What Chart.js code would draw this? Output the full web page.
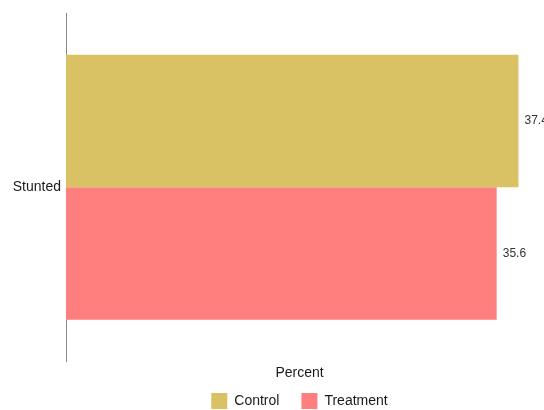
<!DOCTYPE html>
<html>
<head>
<meta charset="utf-8">
<script src="https://cdn.jsdelivr.net/npm/chart.js@4/dist/chart.umd.min.js"></script>
<style>
  html, body { margin: 0; padding: 0; background: #fff; }
  #wrap { width: 544px; height: 410px; }
</style>
</head>
<body>
<div id="wrap"><canvas id="chart"></canvas></div>
<script>
// ── Data ──────────────────────────────────────────────────
const categories = ['Stunted'];
const seriesNames = ['Control', 'Treatment'];
const controlValues = [37.4];
const treatmentValues = [35.6];
const colors = ['#D8C264', '#FF7F7F'];

// value labels at the end of each bar
const barLabels = {
  id: 'barLabels',
  afterDatasetsDraw(chart) {
    const ctx = chart.ctx;
    ctx.save();
    ctx.font = "12px 'Liberation Sans', Arial, sans-serif";
    ctx.fillStyle = '#333';
    ctx.textAlign = 'left';
    ctx.textBaseline = 'middle';
    chart.data.datasets.forEach((ds, i) => {
      chart.getDatasetMeta(i).data.forEach((bar, j) => {
        ctx.fillText(ds.data[j].toFixed(1), bar.x + 6, bar.y);
      });
    });
    ctx.restore();
  }
};

Chart.defaults.font.family = "'Liberation Sans', Arial, sans-serif";
Chart.defaults.color = '#1a1a1a';

new Chart(document.getElementById('chart'), {
  type: 'bar',
  data: {
    labels: categories,
    datasets: [
      { label: seriesNames[0], data: controlValues, backgroundColor: colors[0] },
      { label: seriesNames[1], data: treatmentValues, backgroundColor: colors[1] }
    ]
  },
  options: {
    indexAxis: 'y',
    responsive: true, maintainAspectRatio: false,
    animation: false,
    layout: { padding: { top: 12, right: 11, bottom: 0, left: 0 } },
    datasets: { bar: { categoryPercentage: 0.762, barPercentage: 1.0 } },
    scales: {
      x: {
        min: 0, max: 38.6,
        grid: { display: false, drawTicks: false },
        border: { display: false },
        ticks: { display: false },
        // negative bottom padding lets the legend sit close under the title
        title: { display: true, text: 'Percent', font: { size: 14 }, color: '#1a1a1a', padding: { top: 4, bottom: -10.8 } }
      },
      y: {
        grid: { display: false, drawTicks: false },
        border: { display: true, color: '#888', width: 1 },
        ticks: { font: { size: 14 }, color: '#1a1a1a', padding: 5 },
        afterFit: s => { s.width = 66; }
      }
    },
    plugins: {
      legend: {
        position: 'bottom',
        fullSize: false,
        maxHeight: 39,
        labels: { boxWidth: 16, boxHeight: 16, font: { size: 14 }, color: '#1a1a1a', padding: 22 }
      },
      tooltip: { enabled: false }
    }
  },
  plugins: [barLabels]
});
</script>
</body>
</html>
